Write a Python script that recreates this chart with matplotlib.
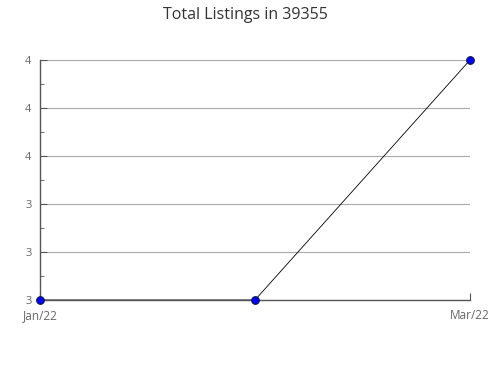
import matplotlib
matplotlib.use("Agg")
import matplotlib.pyplot as plt
from matplotlib.ticker import FuncFormatter, MultipleLocator

months = ["Jan/22", "Feb/22", "Mar/22"]
listings = [3, 3, 4]
shown_ticks = ["Jan/22", "Mar/22"]

plt.rcParams["font.family"] = ["Open Sans", "DejaVu Sans"]

fig = plt.figure(figsize=(4.9, 3.8), dpi=100)
ax = fig.add_axes([40 / 490, 1 - 300 / 380, 430 / 490, 240 / 380])

xs = list(range(len(months)))
ax.plot(xs, listings, color="black", linewidth=0.6, zorder=3)
ax.plot(xs, listings, linestyle="none", marker="o", markersize=5.5,
        markerfacecolor="#0000ff", markeredgecolor="#0a1a4a",
        markeredgewidth=0.8, zorder=4, clip_on=False)

ax.set_xlim(0, len(months) - 1)
ax.set_ylim(3, 4)
ax.set_xticks([months.index(m) for m in shown_ticks])
ax.set_xticklabels(shown_ticks)

ax.yaxis.set_major_locator(MultipleLocator(0.2))
ax.yaxis.set_minor_locator(MultipleLocator(0.1))
ax.yaxis.set_major_formatter(FuncFormatter(lambda v, p: f"{v:.0f}"))

ax.grid(axis="y", which="major", color="#aaaaaa", linewidth=0.8, zorder=1)
for side in ("top", "right"):
    ax.spines[side].set_visible(False)
for side in ("left", "bottom"):
    ax.spines[side].set_color("#555555")
    ax.spines[side].set_linewidth(1.0)

ax.tick_params(axis="both", which="both", direction="in", colors="#555555",
               labelcolor="#666666", labelsize=8.5)
ax.tick_params(axis="y", which="major", length=5, pad=6, labelsize=8)
ax.tick_params(axis="y", which="minor", length=3)
ax.tick_params(axis="x", which="major", length=5, pad=6.5)

fig.suptitle("Total Listings in 39355", y=1 - 15 / 380, fontsize=11.5,
             color="#333333", va="center")

fig.savefig("out.png", dpi=100)
